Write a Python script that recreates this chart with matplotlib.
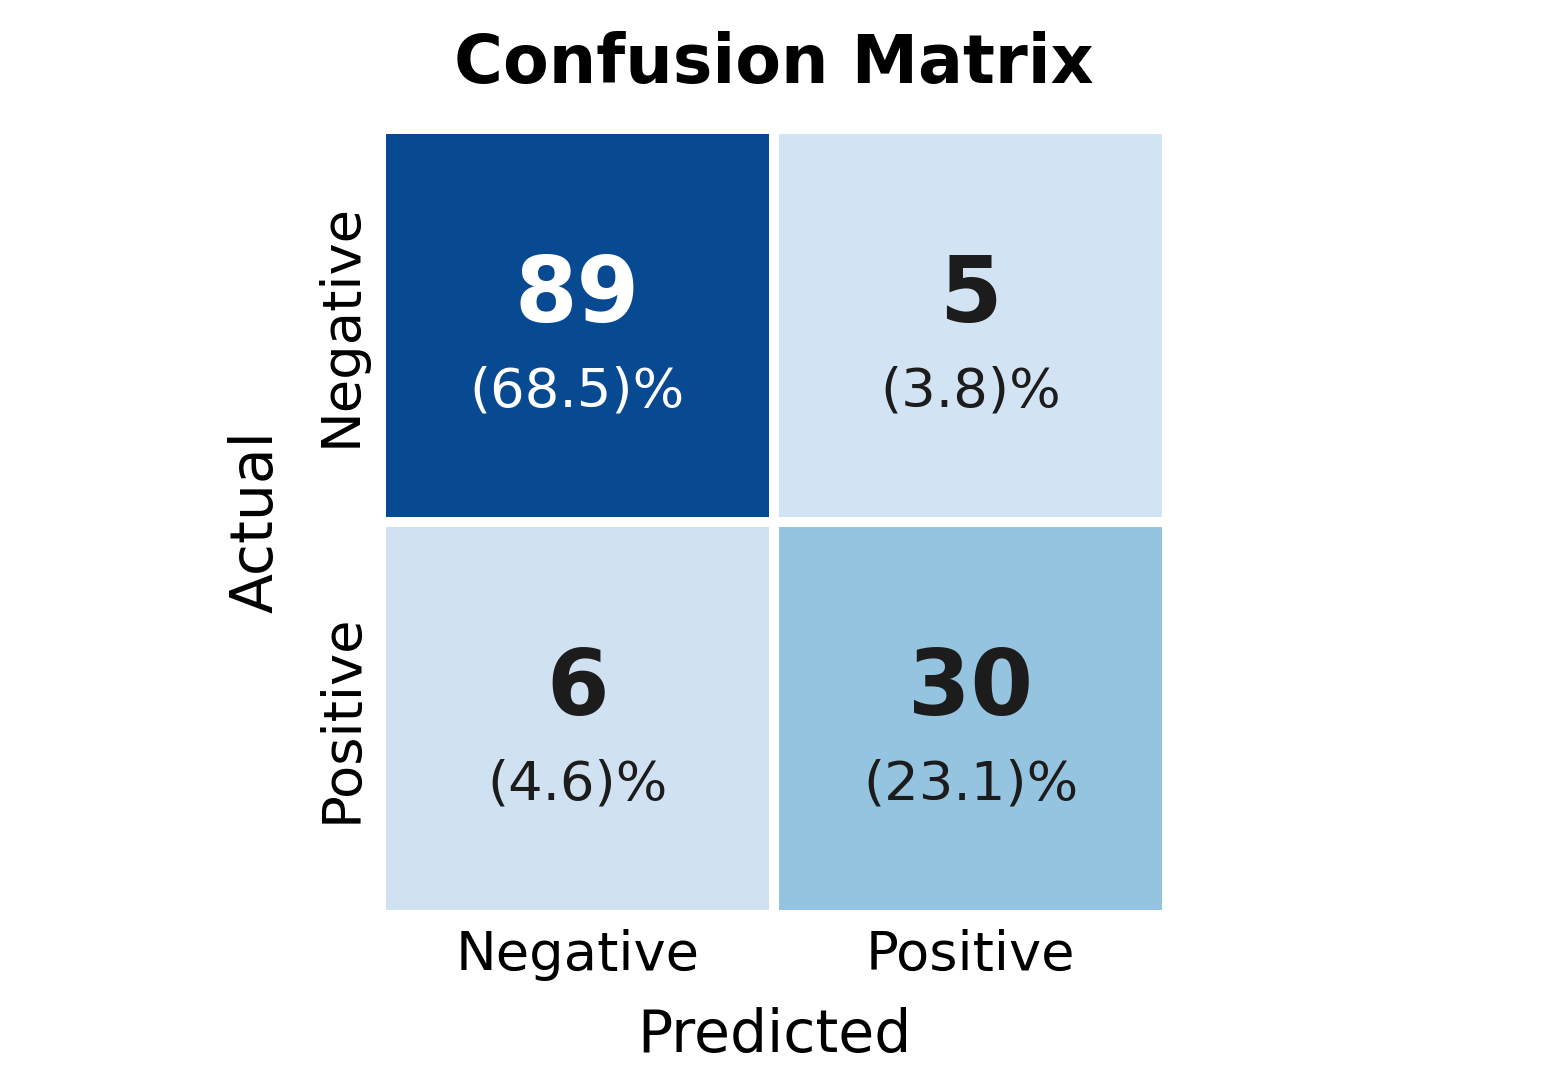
import numpy as np
import matplotlib
matplotlib.use("Agg")
import matplotlib.pyplot as plt
import seaborn as sns
from matplotlib.colors import ListedColormap

classes = ["Negative", "Positive"]
counts = np.array([[89, 5], [6, 30]])
percents = np.array([[68.5, 3.8], [4.6, 23.1]])

plt.rcParams['font.family'] = ['DejaVu Sans']

fig = plt.figure(figsize=(7.74, 5.395), dpi=200)
ax = fig.add_axes([0.2461, 0.1520, 0.5078, 0.7285])

cmap = ListedColormap(plt.get_cmap("Blues")(np.linspace(0.19, 0.902, 256)))
sns.heatmap(counts, ax=ax, cmap=cmap, cbar=False, linewidths=3, linecolor="white",
            square=True, xticklabels=classes, yticklabels=classes)

norm = plt.Normalize(counts.min(), counts.max())


def rel_lum(rgb):
    c = np.array(rgb[:3])
    c = np.where(c <= 0.03928, c / 12.92, ((c + 0.055) / 1.055) ** 2.4)
    return 0.2126 * c[0] + 0.7152 * c[1] + 0.0722 * c[2]


for i in range(counts.shape[0]):
    for j in range(counts.shape[1]):
        rgba = cmap(norm(counts[i, j]))
        col = "white" if rel_lum(rgba) < 0.408 else "#1c1c1c"
        ax.text(j + 0.5, i + 0.428, f"{counts[i, j]}", ha="center", va="center",
                fontsize=32.4, fontweight="bold", color=col)
        ax.text(j + 0.5, i + 0.668, f"({percents[i, j]:.1f})%", ha="center", va="center",
                fontsize=19.6, color=col)

ax.tick_params(length=0, labelsize=19.6)
ax.tick_params(axis="x", pad=5)
ax.tick_params(axis="y", pad=5)
plt.setp(ax.get_xticklabels(), rotation=0)
plt.setp(ax.get_yticklabels(), rotation=90, va="center")
ax.set_xlabel("Predicted", fontsize=21, labelpad=9.5)
ax.set_ylabel("Actual", fontsize=21, labelpad=11)
ax.set_title("Confusion Matrix", fontsize=24, fontweight="bold", pad=16.5)

fig.savefig("out.png", dpi=200)
